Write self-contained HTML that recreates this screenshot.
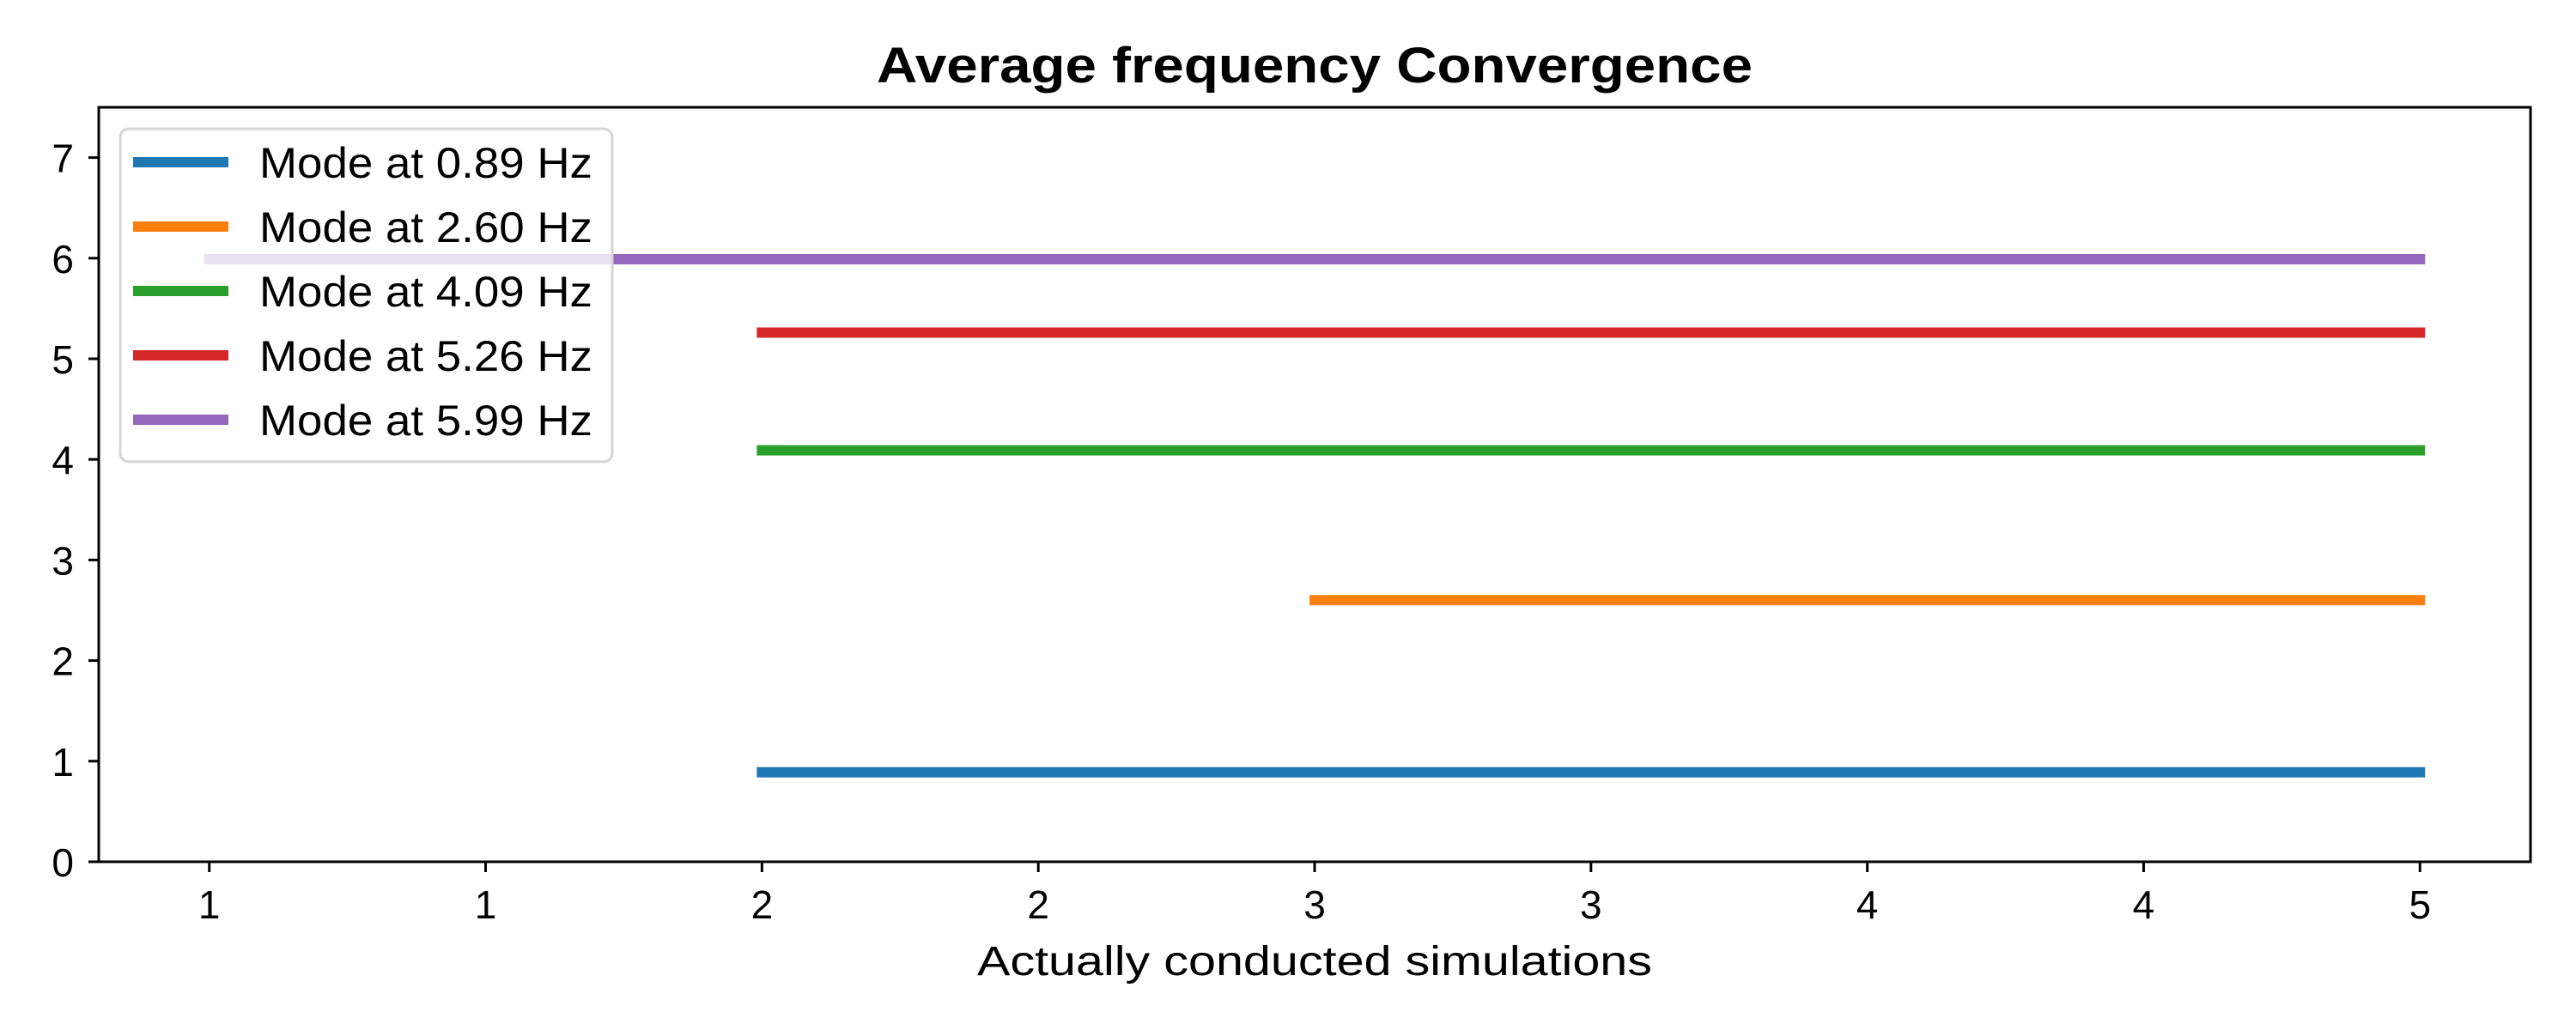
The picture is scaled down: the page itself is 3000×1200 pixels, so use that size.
<!DOCTYPE html>
<html><head><meta charset="utf-8">
<style>html,body{margin:0;padding:0;background:#fff;}svg{display:block;}text{font-family:"Liberation Sans",sans-serif;fill:#000;}</style>
</head><body>
<svg id="chart" width="3000" height="1200" viewBox="0 0 3000 1200" xmlns="http://www.w3.org/2000/svg">
<rect width="3000" height="1200" fill="#fff"/>
<text x="1531" y="96" text-anchor="middle" font-size="58" font-weight="bold" textLength="1020" lengthAdjust="spacingAndGlyphs">Average frequency Convergence</text>
<text x="1531" y="1136" text-anchor="middle" font-size="48" textLength="786" lengthAdjust="spacingAndGlyphs">Actually conducted simulations</text>
<g id="plot"></g>
</svg>
<script>
const seriesLabels = ["Mode at 0.89 Hz","Mode at 2.60 Hz","Mode at 4.09 Hz","Mode at 5.26 Hz","Mode at 5.99 Hz"];
const seriesValues = [0.89, 2.60, 4.09, 5.26, 5.99];
const seriesStart = [2, 3, 2, 2, 1];
const seriesEnd = [5, 5, 5, 5, 5];
const seriesColors = ["#1f77b4","#ff7f0e","#2ca02c","#d62728","#9467bd"];
const xTickValues = [1,1.5,2,2.5,3,3.5,4,4.5,5];
const xTickLabels = ["1","1","2","2","3","3","4","4","5"];
const yTickValues = [0,1,2,3,4,5,6,7];
const yTickLabels = ["0","1","2","3","4","5","6","7"];

const NS="http://www.w3.org/2000/svg";
const L=115,R=2947,T=125,B=1004,xmin=0.8,xmax=5.2,ymin=0,ymax=7.5;
function xs(v){return L+(v-xmin)/(xmax-xmin)*(R-L);}
function ys(v){return B-(v-ymin)/(ymax-ymin)*(B-T);}
const g=document.getElementById('plot');
function mk(tag,attrs,parent){const e=document.createElementNS(NS,tag);for(const k in attrs)e.setAttribute(k,attrs[k]);(parent||g).appendChild(e);return e;}

// series
seriesValues.forEach((v,i)=>{
  const ln=mk('line',{x1:xs(seriesStart[i]),x2:xs(seriesEnd[i]),y1:ys(v),y2:ys(v),stroke:seriesColors[i],'stroke-width':12,'stroke-linecap':'square'});
  
  
});
// spines
const fr=mk('rect',{x:L,y:T,width:R-L,height:B-T,fill:'none',stroke:'#000','stroke-width':3});


// x ticks
xTickValues.forEach((v,i)=>{
  const t=mk('line',{x1:xs(v),x2:xs(v),y1:B,y2:B+12,stroke:'#000','stroke-width':3});
  
  
  const tx=mk('text',{x:xs(v),y:1070,'text-anchor':'middle','font-size':46});
  tx.textContent=xTickLabels[i];
  
  
});
// y ticks
yTickValues.forEach((v,i)=>{
  const t=mk('line',{x1:L-12,x2:L,y1:ys(v),y2:ys(v),stroke:'#000','stroke-width':3});
  
  
  const tx=mk('text',{x:86,y:ys(v)+17,'text-anchor':'end','font-size':46});
  tx.textContent=yTickLabels[i];
  
  
});
// legend
const lg=mk('g',{});


mk('rect',{x:140,y:150,width:573,height:388,rx:10,fill:'#fff','fill-opacity':0.8,stroke:'#d5d5d5','stroke-width':3},lg);
seriesLabels.forEach((lab,i)=>{
  const cy=189+i*75;
  const h=mk('line',{x1:155,x2:266,y1:cy,y2:cy,stroke:seriesColors[i],'stroke-width':12},lg);
  
  
  const t=mk('text',{x:302,y:cy+18,'font-size':50,textLength:388,lengthAdjust:'spacingAndGlyphs'},lg);
  t.textContent=lab;
  
  
});
</script>
</body></html>
